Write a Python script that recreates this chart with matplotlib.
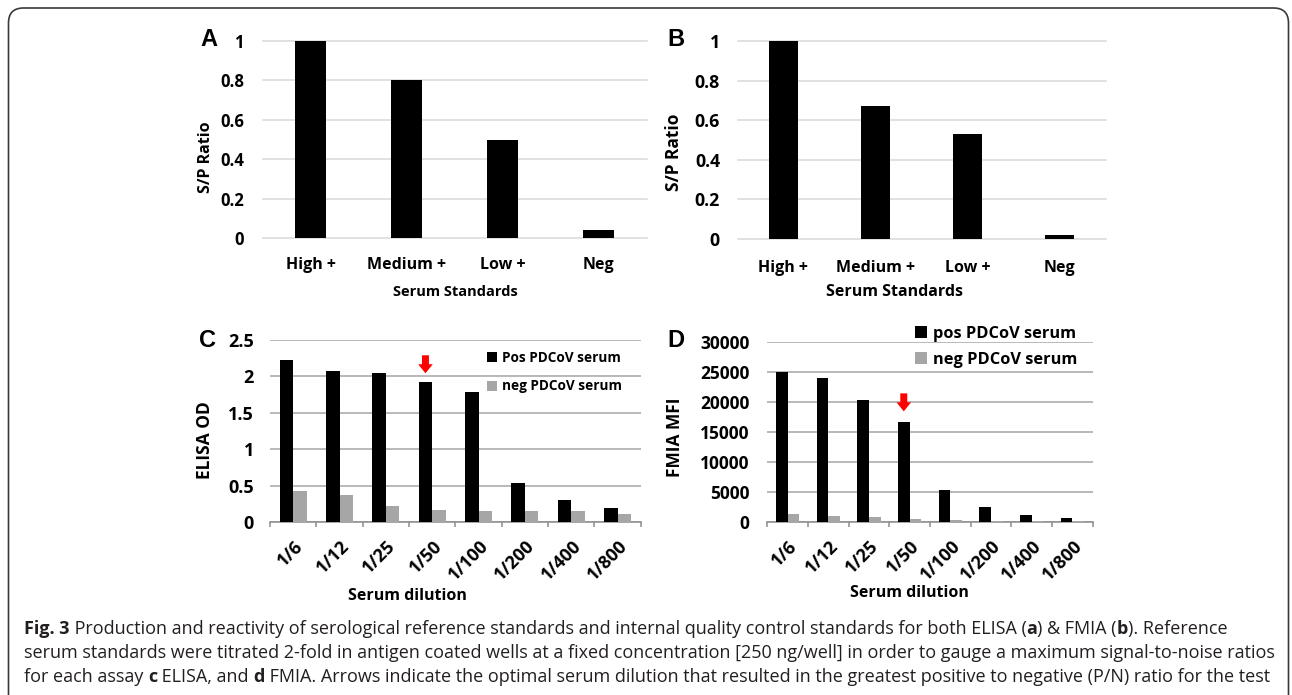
import matplotlib
matplotlib.use("Agg")
import matplotlib.pyplot as plt
import numpy as np
from matplotlib.patches import FancyBboxPatch, Patch
from matplotlib.transforms import IdentityTransform, ScaledTranslation

W, H, DPI = 1292, 695, 100

# ---------------- data ----------------
std_labels = ["High +", "Medium +", "Low +", "Neg"]
elisa_sp = [1.0, 0.80, 0.50, 0.04]
fmia_sp = [1.0, 0.67, 0.53, 0.02]

dilutions = ["1/6", "1/12", "1/25", "1/50", "1/100", "1/200", "1/400", "1/800"]
elisa_pos = [2.22, 2.07, 2.05, 1.92, 1.79, 0.54, 0.30, 0.20]
elisa_neg = [0.43, 0.37, 0.22, 0.17, 0.16, 0.16, 0.15, 0.11]
fmia_pos = [25000, 24000, 20300, 16600, 5400, 2500, 1250, 650]
fmia_neg = [1300, 1000, 800, 600, 350, 250, 250, 150]
optimal_dilution = "1/50"

elisa_legend = ["Pos PDCoV serum", "neg PDCoV serum"]
fmia_legend = ["pos PDCoV serum", "neg PDCoV serum"]

FONT = ["Open Sans", "DejaVu Sans"]
plt.rcParams["font.family"] = FONT
plt.rcParams["font.weight"] = "bold"

fig = plt.figure(figsize=(W / DPI, H / DPI), dpi=DPI)
PT = 0.72  # points per pixel at 100 dpi


def px_axes(l, t, r, b):
    return fig.add_axes([l / W, 1 - b / H, (r - l) / W, (b - t) / H])


def fpx(x, y):
    return x / W, 1 - y / H


def style_common(ax, gridcolor):
    for s in ax.spines.values():
        s.set_visible(False)
    ax.yaxis.grid(True, color=gridcolor, lw=1.1)
    ax.set_axisbelow(True)


# ---------------- panels A and B ----------------
def sp_panel(ax, vals, ytick_fs, xtick_fs, ypad_px, xpad_px):
    x = np.arange(len(vals))
    ax.bar(x, vals, width=0.32, color="black", zorder=3)
    ax.set_xlim(-0.5, len(vals) - 0.5)
    ax.set_ylim(0, 1)
    ax.set_yticks([0, 0.2, 0.4, 0.6, 0.8, 1.0])
    ax.set_yticklabels(["0", "0.2", "0.4", "0.6", "0.8", "1"], fontsize=ytick_fs, fontweight="bold")
    ax.set_xticks(x)
    ax.set_xticklabels(std_labels, fontsize=xtick_fs, fontweight="bold")
    style_common(ax, "#d9d9d9")
    ax.tick_params(axis="both", length=0)
    ax.tick_params(axis="y", pad=ypad_px * PT)
    ax.tick_params(axis="x", pad=xpad_px * PT)
    for gl in ax.get_ygridlines():
        gl.set_clip_on(False)


axA = px_axes(262.5, 41, 646.5, 238)
sp_panel(axA, elisa_sp, 12.0, 11.5, 18.5, 19)
axB = px_axes(737.5, 41, 1105.5, 239)
sp_panel(axB, fmia_sp, 12.8, 11.5, 17.5, 21)

fig.text(*fpx(455, 292), "Serum Standards", ha="center", va="center", fontsize=10.5, fontweight="bold")
fig.text(*fpx(894, 292), "Serum Standards", ha="center", va="center", fontsize=11.5, fontweight="bold")
fig.text(*fpx(206, 157), "S/P Ratio", ha="center", va="center", rotation=90, fontsize=11.5, fontweight="bold")
fig.text(*fpx(674, 152), "S/P Ratio", ha="center", va="center", rotation=90, fontsize=12.5, fontweight="bold")


# ---------------- panels C and D ----------------
def dil_panel(ax, pos, neg, ymax, ystep, ytick_fs, xtick_fs, ypad_px, legend_labels, leg_fs,
              leg_anchor, leg_spacing, arrow_gap, arrow_len):
    x = np.arange(len(pos))
    bw = 0.29
    b1 = ax.bar(x - bw / 2, pos, width=bw, color="black", zorder=3, label=legend_labels[0])
    b2 = ax.bar(x + bw / 2, neg, width=bw, color="#a6a6a6", zorder=3, label=legend_labels[1])
    ax.set_xlim(-0.5, len(pos) - 0.5)
    ax.set_ylim(0, ymax)
    yt = np.arange(0, ymax + ystep / 2, ystep)
    ax.set_yticks(yt)
    ax.set_yticklabels([("%g" % v) for v in yt], fontsize=ytick_fs, fontweight="bold")
    style_common(ax, "#a6a6a6")
    ax.spines["bottom"].set_visible(True)
    ax.spines["bottom"].set_color("#8c8c8c")
    ax.spines["bottom"].set_linewidth(1.1)
    ax.set_xticks(x)
    ax.set_xticklabels(dilutions, fontsize=xtick_fs, fontweight="bold", rotation=45,
                       ha="right", va="center", rotation_mode="anchor")
    ax.set_xticks(np.arange(len(pos) + 1) - 0.5, minor=True)
    ax.tick_params(axis="x", which="major", length=0, pad=21 * PT)
    ax.tick_params(axis="x", which="minor", length=5 * PT, width=1.1, color="#8c8c8c", direction="out")
    ax.tick_params(axis="y", length=0, pad=ypad_px * PT)
    off = ScaledTranslation(0.07, 0, fig.dpi_scale_trans)
    for lbl in ax.get_xticklabels():
        lbl.set_transform(lbl.get_transform() + off)
    leg = ax.legend(handles=[b1, b2], loc="upper left", bbox_to_anchor=leg_anchor,
                    bbox_transform=fig.transFigure, frameon=False, fontsize=leg_fs,
                    handlelength=0.75, handleheight=0.75, handletextpad=0.35,
                    labelspacing=leg_spacing, borderpad=0, borderaxespad=0)
    for t in leg.get_texts():
        t.set_fontweight("bold")
    i = dilutions.index(optimal_dilution)
    ax.annotate("", xy=(x[i] - bw / 2, pos[i]), xycoords="data",
                xytext=(0, arrow_gap + arrow_len), textcoords="offset pixels",
                arrowprops=dict(arrowstyle="simple,head_width=10.5,head_length=6.5,tail_width=5",
                                mutation_scale=1, color="#ff0000", lw=0,
                                shrinkA=0, shrinkB=arrow_gap * PT))


axC = px_axes(270, 340, 640.7, 522.3)
dil_panel(axC, elisa_pos, elisa_neg, 2.5, 0.5, 13, 13, 16, elisa_legend, 9.8,
          fpx(487, 351), 1.05, 9, 18)
axD = px_axes(767.3, 341.7, 1092.7, 522.3)
dil_panel(axD, fmia_pos, fmia_neg, 30000, 5000, 12.5, 13, 18, fmia_legend, 11.8,
          fpx(915, 326), 0.62, 11, 18)

fig.text(*fpx(407, 596), "Serum dilution", ha="center", va="center", fontsize=11.5, fontweight="bold")
fig.text(*fpx(909, 593), "Serum dilution", ha="center", va="center", fontsize=11.5, fontweight="bold")
fig.text(*fpx(205, 440), "ELISA OD", ha="center", va="center", rotation=90, fontsize=12.5, fontweight="bold")
fig.text(*fpx(675, 437), "FMIA MFI", ha="center", va="center", rotation=90, fontsize=12.5, fontweight="bold")

# panel letters
for lab, (px, py) in zip("ABCD", [(209, 40), (676, 40), (208, 340), (676, 340)]):
    fig.text(*fpx(px, py), lab, ha="center", va="center", fontsize=17, fontweight="bold",
             family=["Liberation Sans", "DejaVu Sans"])

# ---------------- frame ----------------
frame = FancyBboxPatch((8.5, -40), 1280, 687 + 40, boxstyle="round,pad=0,rounding_size=15",
                       transform=IdentityTransform(), fill=False, ec="#3a3a3a", lw=1.2)
fig.patches.append(frame)

# ---------------- caption ----------------
cap_lines = [
    [("Fig. 3", True), (" Production and reactivity of serological reference standards and internal quality control standards for both ELISA (", False),
     ("a", True), (") & FMIA (", False), ("b", True), ("). Reference", False)],
    [("serum standards were titrated 2-fold in antigen coated wells at a fixed concentration [250 ng/well] in order to gauge a maximum signal-to-noise ratios", False)],
    [("for each assay ", False), ("c", True), (" ELISA, and ", False), ("d", True),
     (" FMIA. Arrows indicate the optimal serum dilution that resulted in the greatest positive to negative (P/N) ratio for the test", False)],
]
CAP_FONT = ["Open Sans", "DejaVu Sans"]
renderer = fig.canvas.get_renderer()
probe = fig.text(0, 0, cap_lines[1][0][0], fontsize=10, fontweight="normal", family=CAP_FONT)
wprobe = probe.get_window_extent(renderer).width
probe.remove()
cap_fs = 10 * (1280 - 24) / wprobe
baselines = [634, 658, 682]
for line, yb in zip(cap_lines, baselines):
    xcur = 24
    for s, bold in line:
        t = fig.text(xcur / W, 1 - yb / H, s, fontsize=cap_fs, fontweight="bold" if bold else "normal",
                     family=CAP_FONT, va="baseline", ha="left", color="#231f20")
        xcur = t.get_window_extent(renderer).x1

fig.savefig("out.png", dpi=DPI)
